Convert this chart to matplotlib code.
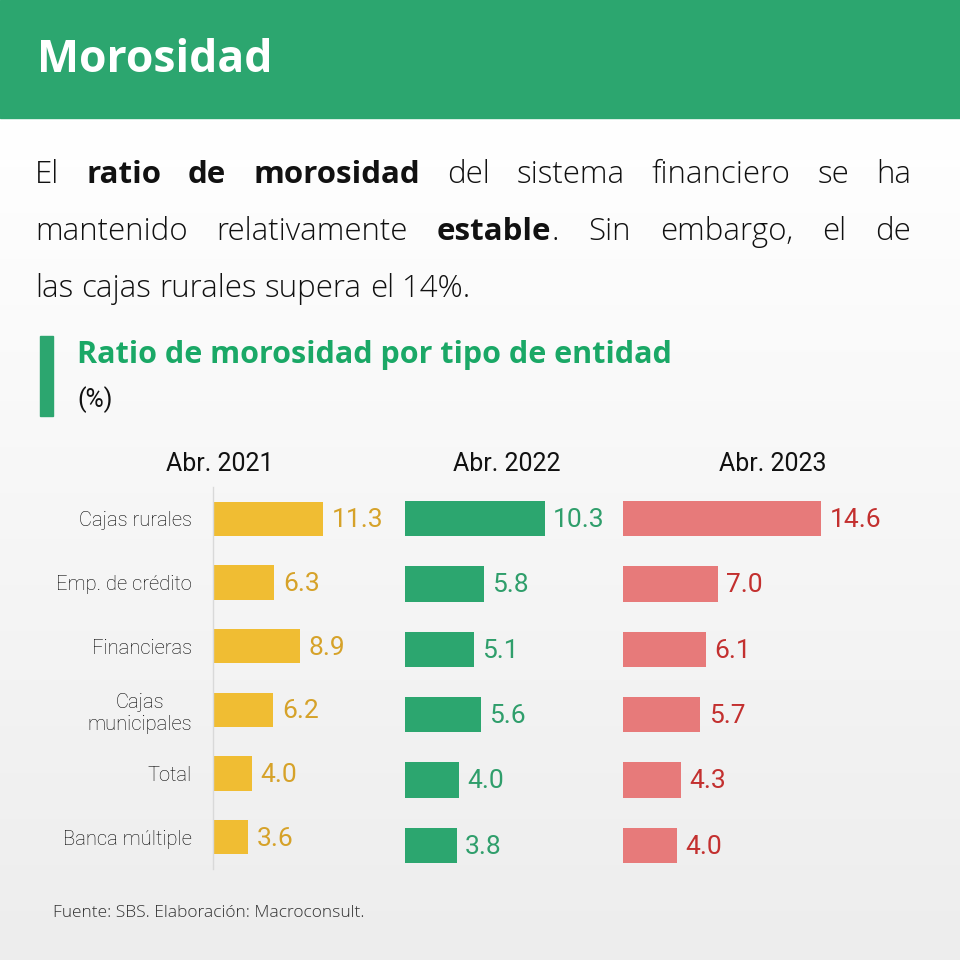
"""
Morosidad: ratio de morosidad por tipo de entidad (barras horizontales, 3 periodos).
"""

import numpy as np
import matplotlib
matplotlib.use("Agg")
import matplotlib.pyplot as plt
from matplotlib.colors import LinearSegmentedColormap
from matplotlib.patches import Rectangle


# ─────────────────────────────────────────────
# Datos
# ─────────────────────────────────────────────

categorias = ["Cajas rurales", "Emp. de crédito", "Financieras",
              "Cajas\nmunicipales", "Total", "Banca múltiple"]
periodos = ["Abr. 2021", "Abr. 2022", "Abr. 2023"]
mora_2021 = [11.3, 6.3, 8.9, 6.2, 4.0, 3.6]
mora_2022 = [10.3, 5.8, 5.1, 5.6, 4.0, 3.8]
mora_2023 = [14.6, 7.0, 6.1, 5.7, 4.3, 4.0]

titulo = "Morosidad"
subtitulo = "Ratio de morosidad por tipo de entidad"
unidad = "(%)"
fuente = "Fuente: SBS. Elaboración: Macroconsult."

# párrafo: cada palabra es una lista de tramos (texto, negrita)
parrafo = [
    [[("El", False)], [("ratio", True)], [("de", True)], [("morosidad", True)],
     [("del", False)], [("sistema", False)], [("financiero", False)],
     [("se", False)], [("ha", False)]],
    [[("mantenido", False)], [("relativamente", False)],
     [("estable", True), (".", False)], [("Sin", False)],
     [("embargo,", False)], [("el", False)], [("de", False)]],
    [[(w, False)] for w in "las cajas rurales supera el 14%.".split()],
]

# ─────────────────────────────────────────────
# Estilo
# ─────────────────────────────────────────────

VERDE = "#2ca66f"
COLORES = [("#f0bd33", "#d6a229"), ("#2ca66f", "#2f9e6b"), ("#e77a7a", "#c3302f")]
FONT_TXT = "Open Sans"
FONT_CHART = "Roboto"
W = H = 960

fig = plt.figure(figsize=(9.6, 9.6), dpi=100)
bg = fig.add_axes([0, 0, 1, 1])
grad = np.linspace(0, 1, 256).reshape(-1, 1)
cmap = LinearSegmentedColormap.from_list("bg", ["#ffffff", "#ededed"])
bg.imshow(grad, cmap=cmap, extent=(0, W, H, 118), aspect="auto", zorder=0)
bg.set_xlim(0, W)
bg.set_ylim(H, 0)
bg.axis("off")

# cabecera
bg.add_patch(Rectangle((0, 0), W, 118, color=VERDE, zorder=1))
bg.text(37, 60, titulo, color="white", fontsize=32, fontweight="bold",
        family=FONT_TXT, va="center", ha="left", zorder=2)


def draw_line(words, y, x_left, x_right, size, justify=True):
    r = fig.canvas.get_renderer()
    objs = []
    for word in words:
        runs = []
        for txt, bold in word:
            t = bg.text(0, y, txt, fontsize=size, family=FONT_TXT,
                        fontweight="bold" if bold else "light",
                        color="#111111", va="baseline", ha="left", zorder=3)
            runs.append((t, t.get_window_extent(r).width))
        objs.append(runs)
    total = sum(w for runs in objs for _, w in runs)
    if justify:
        gap = (x_right - x_left - total) / (len(objs) - 1)
    else:
        a = bg.text(0, 0, "a a", fontsize=size, family=FONT_TXT, fontweight="light")
        b = bg.text(0, 0, "aa", fontsize=size, family=FONT_TXT, fontweight="light")
        gap = a.get_window_extent(r).width - b.get_window_extent(r).width
        a.remove()
        b.remove()
    x = x_left
    for runs in objs:
        for t, w in runs:
            t.set_x(x)
            x += w
        x += gap


for i, (linea, y) in enumerate(zip(parrafo, [183, 240, 297])):
    draw_line(linea, y, 35, 911, 22.5, justify=(i < len(parrafo) - 1))

# subtítulo
bg.add_patch(Rectangle((40, 336), 13, 80, color=VERDE, zorder=2))
bg.text(77, 355, subtitulo, color="#1aa866", fontsize=22, fontweight="bold",
        family=FONT_TXT, va="center", ha="left")
bg.text(77, 400, unidad, color="#111111", fontsize=18,
        family=FONT_CHART, va="center", ha="left")

# fuente
bg.text(53, 913, fuente, color="#333333", fontsize=12.5, family=FONT_TXT,
        fontweight="light", va="center", ha="left")


# ─────────────────────────────────────────────
# Paneles de barras
# ─────────────────────────────────────────────

def px_rect(x0, x1, y0, y1):
    return [x0 / W, 1 - y1 / H, (x1 - x0) / W, (y1 - y0) / H]


series = [mora_2021, mora_2022, mora_2023]
paneles = [  # (x0, x1, y0, y1) en píxeles
    (213, 369, 487, 869),
    (405, 622, 486, 878),
    (623, 840, 486, 878),
]
cabecera_x = [220, 507, 773]

for k, (vals, (c_bar, c_txt), box) in enumerate(zip(series, COLORES, paneles)):
    ax = fig.add_axes(px_rect(*box))
    ax.set_facecolor("none")
    y = np.arange(len(vals))
    ax.barh(y, vals, height=0.54, color=c_bar, zorder=2)
    for yi, v in zip(y, vals):
        ax.annotate(f"{v:.1f}", xy=(v, yi), xytext=(6, -1), textcoords="offset points",
                    ha="left", va="center", fontsize=19, color=c_txt,
                    family=FONT_CHART)
    ax.set_xlim(0, 16)
    ax.set_ylim(len(vals) - 0.5, -0.5)
    ax.set_xticks([])
    for s in ["top", "right", "bottom"]:
        ax.spines[s].set_visible(False)
    if k == 0:
        ax.spines["left"].set_color("#d9d9d9")
        ax.spines["left"].set_linewidth(1)
        ax.set_yticks(y)
        ax.set_yticklabels(categorias, fontsize=14.5, family=FONT_CHART,
                           fontweight="light", color="#000000",
                           multialignment="center")
        ax.tick_params(axis="y", length=0, pad=15)
    else:
        ax.spines["left"].set_visible(False)
        ax.set_yticks([])
    bg.text(cabecera_x[k], 464, periodos[k], ha="center", va="center",
            fontsize=18, family=FONT_CHART, color="#111111")

fig.savefig("out.png", dpi=100, facecolor="white")
